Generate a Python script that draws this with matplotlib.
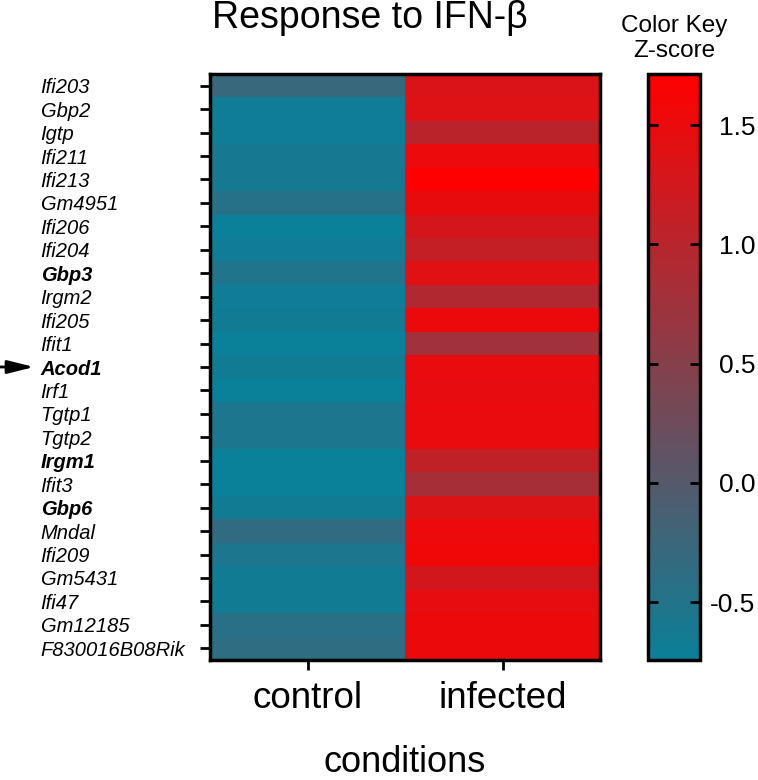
import numpy as np
import matplotlib
matplotlib.use("Agg")
import matplotlib.pyplot as plt
from matplotlib.colors import LinearSegmentedColormap

plt.rcParams['font.family'] = ['Liberation Sans', 'DejaVu Sans']

# gene rows, top to bottom
genes = ["Ifi203", "Gbp2", "Igtp", "Ifi211", "Ifi213", "Gm4951", "Ifi206",
         "Ifi204", "Gbp3", "Irgm2", "Ifi205", "Ifit1", "Acod1", "Irf1",
         "Tgtp1", "Tgtp2", "Irgm1", "Ifit3", "Gbp6", "Mndal", "Ifi209",
         "Gm5431", "Ifi47", "Gm12185", "F830016B08Rik"]
bold_genes = ["Gbp3", "Acod1", "Irgm1", "Gbp6"]
conditions = ["control", "infected"]

# z-scores
control = [-0.29, -0.69, -0.69, -0.61, -0.61, -0.46, -0.74, -0.68, -0.53,
           -0.68, -0.66, -0.76, -0.66, -0.74, -0.57, -0.57, -0.76, -0.76,
           -0.66, -0.35, -0.57, -0.66, -0.66, -0.43, -0.38]
infected = [1.34, 1.38, 1.03, 1.52, 1.72, 1.49, 1.28, 1.11, 1.40, 0.93,
            1.53, 0.77, 1.50, 1.47, 1.50, 1.50, 1.08, 0.83, 1.36, 1.52,
            1.57, 1.26, 1.47, 1.51, 1.51]

cbar_ticks = [-0.5, 0.0, 0.5, 1.0, 1.5]
vmin, vmax = -0.743, 1.714

cmap = LinearSegmentedColormap.from_list("tealred", ["#0b8099", "#ff0000"])
data = np.column_stack([control, infected])

fig = plt.figure(figsize=(7.58, 7.80), dpi=100)
W, H = 758, 780

ax = fig.add_axes([210 / W, 1 - 660 / H, 390 / W, 586 / H])
im = ax.imshow(data, aspect='auto', cmap=cmap, vmin=vmin, vmax=vmax,
               interpolation='nearest')

ax.set_xticks(range(len(conditions)))
ax.set_xticklabels(conditions, fontsize=26.5)
ax.set_yticks(range(len(genes)))
ax.set_yticklabels(genes, fontsize=14.5, style='italic', ha='left')
for lab in ax.get_yticklabels():
    if lab.get_text() in bold_genes:
        lab.set_fontweight('bold')
ax.tick_params(axis='y', direction='out', length=7, width=2, pad=115)
ax.tick_params(axis='x', direction='out', length=7, width=2, pad=8)
for sp in ax.spines.values():
    sp.set_linewidth(2.5)

# colour key
cax = fig.add_axes([648 / W, 1 - 660 / H, 52 / W, 586 / H])
cb = fig.colorbar(im, cax=cax)
cb.outline.set_linewidth(2.5)
cax.set_yticks(cbar_ticks)
cax.set_yticklabels(["%.1f" % t for t in cbar_ticks], fontsize=19, ha='right')
cax.tick_params(axis='y', direction='in', length=7, width=2, left=True,
                right=True, labelleft=False, labelright=True, pad=40)

fig.text(674 / W, 1 - 32 / H, "Color Key", ha='center', va='baseline', fontsize=17.5)
fig.text(674 / W, 1 - 57 / H, "Z-score", ha='center', va='baseline', fontsize=17.5)

fig.text(370 / W, 1 - 28 / H, "Response to IFN-\u03b2", ha='center',
         va='baseline', fontsize=27)
fig.text(405 / W, 1 - 772 / H, "conditions", ha='center', va='baseline',
         fontsize=26)

# arrow marking Acod1
ya = 1 - 367 / H
ax.annotate('', xy=(34 / W, ya), xytext=(0, ya), xycoords='figure fraction',
            textcoords='figure fraction',
            arrowprops=dict(arrowstyle='-|>,head_length=1.6,head_width=0.4',
                            lw=2, color='black', mutation_scale=10,
                            shrinkA=0, shrinkB=0))

fig.savefig("out.png", dpi=100)
